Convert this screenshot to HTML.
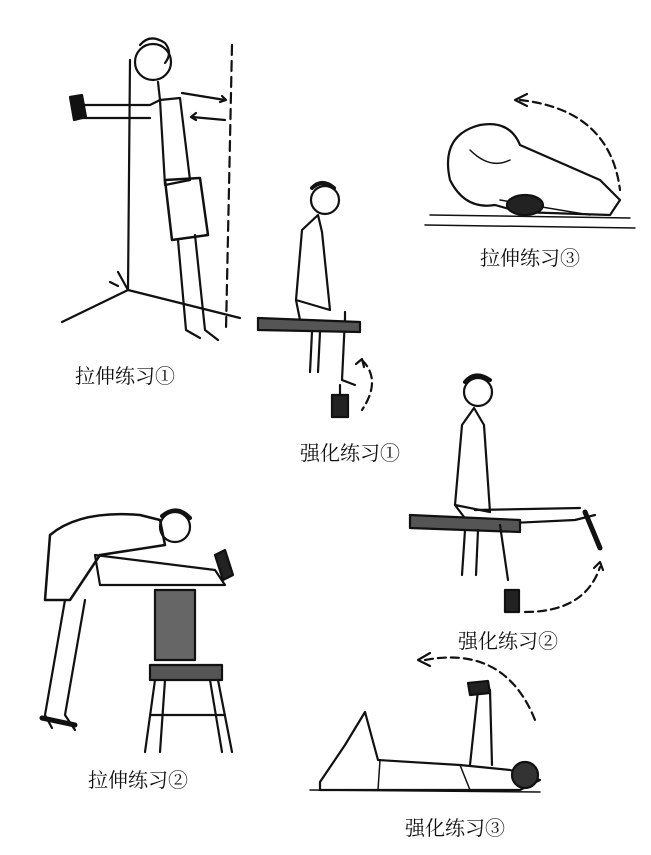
<!DOCTYPE html>
<html><head><meta charset="utf-8"><style>
html,body{margin:0;padding:0;background:#fff;}
svg{display:block}
text{font-family:"Liberation Serif","Noto Serif CJK SC",serif;font-size:20px;fill:#111}
</style></head><body>
<svg width="651" height="855" viewBox="0 0 651 855" xmlns="http://www.w3.org/2000/svg">
<g fill="none" stroke="#111" stroke-width="2.2" stroke-linecap="round" stroke-linejoin="round">
<!-- Stretch 1 -->
<path d="M130 60 L128 290 M128 290 L62 322 M128 290 L240 318"/>
<path d="M232 45 L226 330" stroke-dasharray="10 6"/>
<path d="M118 272 L128 290 M110 282 l8 4"/>
<circle cx="153" cy="62" r="18"/>
<path d="M140 45 q10 -12 25 -2 q8 10 0 20"/>
<path d="M158 82 L160 100 L150 105 L78 105 M150 118 L80 118"/>
<path d="M70 97 l12 -2 l4 22 l-12 3 z" fill="#111"/>
<path d="M160 100 L180 98 L190 180 L165 185 Z"/>
<path d="M165 180 L200 178 L208 235 L172 240 Z" stroke-width="2.5"/>
<path d="M178 240 L186 330 L200 338 M195 235 L205 330 L218 340"/>
<path d="M182 93 L225 100 M222 96 l4 4 l-6 2 M225 120 L192 117 M196 113 l-5 4 l5 3"/>
<!-- Strengthen 1 -->
<circle cx="325" cy="200" r="14"/>
<path d="M312 188 q10 -10 22 0" stroke-width="4"/>
<path d="M318 215 L302 230 L296 300 L330 310 L322 232 Z"/>
<path d="M296 300 L300 320 L345 325 L345 312 M345 318 L342 380 L355 385"/>
<path d="M258 318 L360 322 L360 332 L258 330 Z" fill="#555"/>
<path d="M312 332 L310 372 M320 332 L318 372"/>
<rect x="332" y="395" width="16" height="22" fill="#222"/>
<path d="M340 385 L340 395"/>
<path d="M362 360 q20 20 0 50" stroke-dasharray="8 5"/>
<path d="M356 364 l6 -5 l2 8"/>
<!-- Stretch 3 -->
<path d="M425 225 L635 228 M430 215 L630 218" stroke-width="1.5"/>
<path d="M450 180 q-10 -45 30 -55 q30 -5 40 20 L600 180 L620 200 L610 215 L520 212 L495 205 q-30 5 -45 -25 Z"/>
<path d="M470 150 q20 20 40 10 M500 200 L590 215" stroke-width="1.5"/>
<ellipse cx="525" cy="205" rx="18" ry="10" fill="#222"/>
<path d="M520 100 q90 10 100 90" stroke-dasharray="8 5"/>
<path d="M527 94 l-12 6 l12 6"/>
<!-- Strengthen 2 -->
<circle cx="478" cy="392" r="14"/>
<path d="M465 382 q10 -12 25 -2" stroke-width="4"/>
<path d="M474 408 L462 425 L455 505 L490 512 L484 425 Z"/>
<path d="M455 505 L470 525 L575 520 L595 515 M475 510 L580 508"/>
<path d="M585 512 L600 548" stroke-width="5"/>
<path d="M410 515 L520 520 L520 532 L410 528 Z" fill="#555"/>
<path d="M465 530 L462 575 M478 530 L476 575"/>
<path d="M500 525 L508 580"/>
<rect x="505" y="590" width="14" height="22" fill="#222"/>
<path d="M525 612 q60 0 75 -45" stroke-dasharray="8 5"/>
<path d="M594 568 l6 -6 l3 8"/>
<!-- Stretch 2 -->
<path d="M50 535 q30 -25 90 -20 L160 520 L165 545 L100 555 L70 600 L45 600 Z" stroke-width="2.5"/>
<circle cx="175" cy="527" r="15"/>
<path d="M162 516 q15 -12 28 2" stroke-width="4"/>
<path d="M95 555 L215 570 L225 585 L100 585 Z"/>
<path d="M215 555 l10 -5 l8 25 l-10 5 z" fill="#222"/>
<path d="M65 600 L45 715 L52 728 M85 600 L65 715 L75 730"/>
<path d="M42 718 L75 725" stroke-width="5"/>
<rect x="155" y="590" width="40" height="70" fill="#666"/>
<path d="M150 665 L222 665 L222 680 L150 680 Z" fill="#555"/>
<path d="M155 680 L145 752 M165 680 L160 752 M210 680 L222 752 M218 680 L232 752 M150 715 L225 715"/>
<!-- Strengthen 3 -->
<path d="M310 790 L540 792" stroke-width="1.5"/>
<path d="M320 782 L345 745 L365 712 L378 760 L460 765 L510 770 L540 780 L520 790 L320 790 Z"/>
<path d="M380 760 L378 790 M460 765 L470 790" stroke-width="1.5"/>
<path d="M478 690 L470 765 M490 690 L492 765"/>
<path d="M468 683 l20 -2 l2 12 l-20 2 z" fill="#222"/>
<circle cx="525" cy="775" r="13" fill="#333"/>
<path d="M425 660 q80 -15 110 60" stroke-dasharray="8 5"/>
<path d="M430 653 l-12 7 l12 6"/>
</g>
<text x="75" y="383">拉伸练习①</text>
<text x="300" y="460">强化练习①</text>
<text x="480" y="265">拉伸练习③</text>
<text x="458" y="648">强化练习②</text>
<text x="88" y="787">拉伸练习②</text>
<text x="405" y="835">强化练习③</text>
</svg>
</body></html>
